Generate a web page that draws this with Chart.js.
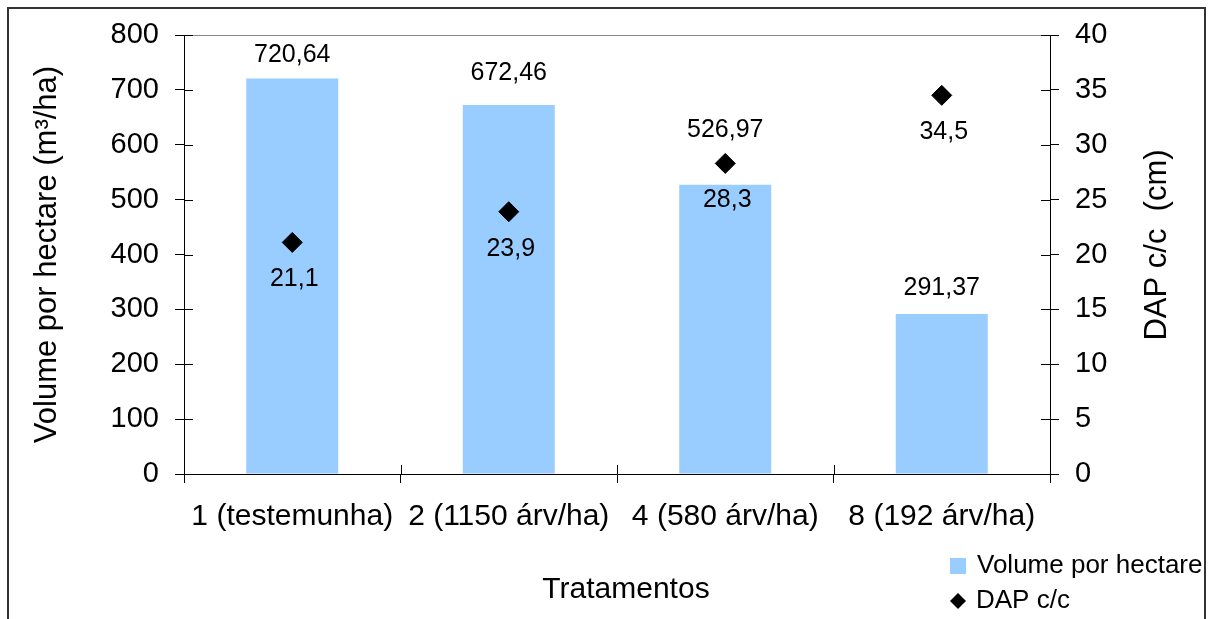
<!DOCTYPE html>
<html>
<head>
<meta charset="utf-8">
<script src="https://cdn.jsdelivr.net/npm/chart.js@4.4.1/dist/chart.umd.min.js"></script>
<style>
  html, body { margin: 0; padding: 0; background: #fff; overflow: hidden; }
  #wrap { position: relative; width: 1218px; height: 619px; }
</style>
</head>
<body>
<div id="wrap"><canvas id="grafico" width="1218" height="619"></canvas></div>
<script>
// dados
const tratamentos = ['1 (testemunha)', '2 (1150 árv/ha)', '4 (580 árv/ha)', '8 (192 árv/ha)'];
const volumeHa = [720.64, 672.46, 526.97, 291.37];
const dapCC = [21.1, 23.9, 28.3, 34.5];
const ticksVolume = [0, 100, 200, 300, 400, 500, 600, 700, 800];
const ticksDap = [0, 5, 10, 15, 20, 25, 30, 35, 40];

// deslocamento vertical (px) dos rótulos das barras, como no original
const elevacaoRotulo = [-23, -32, -55, -26];

const azul = '#99CCFF';
const fonte = '"Liberation Sans", Arial, sans-serif';

Chart.defaults.font.family = fonte;
Chart.defaults.color = '#000';

const fmt = (v, d) => v.toFixed(d).replace('.', ',');

const enfeites = {
    id: 'enfeites',
    beforeDraw(chart) {
        const ctx = chart.ctx;
        ctx.save();
        ctx.fillStyle = '#fff';
        ctx.fillRect(0, 0, chart.width, chart.height);
        ctx.strokeStyle = '#333';
        ctx.lineWidth = 2;
        ctx.strokeRect(8, 8, 1197, 700);
        ctx.restore();
    },
    afterDraw(chart) {
        const ctx = chart.ctx;
        const { left, right, top, bottom } = chart.chartArea;
        const sx = chart.scales.x, sy = chart.scales.y, sy1 = chart.scales.y1;
        ctx.save();

        // borda superior cinza da área do gráfico
        ctx.strokeStyle = '#888';
        ctx.lineWidth = 1;
        ctx.beginPath();
        ctx.moveTo(left, Math.round(top) + 0.5);
        ctx.lineTo(right, Math.round(top) + 0.5);
        ctx.stroke();

        // metade interna das marcas (estilo cruzado)
        ctx.strokeStyle = '#000';
        ctx.beginPath();
        sy.ticks.forEach((t, i) => {
            const py = Math.round(sy.getPixelForTick(i)) + 0.5;
            ctx.moveTo(left, py); ctx.lineTo(left + 9, py);
        });
        sy1.ticks.forEach((t, i) => {
            const py = Math.round(sy1.getPixelForTick(i)) + 0.5;
            ctx.moveTo(right - 9, py); ctx.lineTo(right, py);
        });
        for (let i = 0; i <= tratamentos.length; i++) {
            const px = Math.round(sx.getPixelForValue(i - 0.5)) + 0.5;
            ctx.moveTo(px, bottom - 9); ctx.lineTo(px, bottom);
        }
        ctx.stroke();

        // rótulos de dados
        ctx.fillStyle = '#000';
        ctx.textAlign = 'center';
        ctx.textBaseline = 'middle';
        ctx.font = '25px ' + fonte;
        const barras = chart.getDatasetMeta(1).data;
        barras.forEach((el, i) => {
            ctx.fillText(fmt(volumeHa[i], 2), el.x, el.y + elevacaoRotulo[i]);
        });
        const pontos = chart.getDatasetMeta(0).data;
        pontos.forEach((el, i) => {
            ctx.fillText(fmt(dapCC[i], 1), el.x + 2, el.y + 37);
        });

        // título do eixo x
        ctx.font = '30px ' + fonte;
        ctx.fillText('Tratamentos', 626, 590);

        // título do eixo direito (lido de baixo para cima)
        ctx.save();
        ctx.translate(1157, 245);
        ctx.rotate(-Math.PI / 2);
        ctx.font = '31px ' + fonte;
        ctx.fillText('DAP c/c  (cm)', 0, 0);
        ctx.restore();

        // legenda
        ctx.textAlign = 'left';
        ctx.font = '26px ' + fonte;
        ctx.fillStyle = azul;
        ctx.fillRect(950, 558, 16, 16);
        ctx.fillStyle = '#000';
        ctx.fillText(chart.data.datasets[1].label, 977, 566);
        ctx.beginPath();
        ctx.moveTo(958, 593); ctx.lineTo(966, 601); ctx.lineTo(958, 609); ctx.lineTo(950, 601);
        ctx.closePath();
        ctx.fill();
        ctx.fillText(chart.data.datasets[0].label, 976, 601);

        ctx.restore();
    }
};

new Chart(document.getElementById('grafico'), {
    data: {
        labels: tratamentos,
        datasets: [
            {
                type: 'line',
                label: 'DAP c/c',
                data: dapCC,
                yAxisID: 'y1',
                showLine: false,
                pointStyle: 'rectRot',
                pointRadius: 10,
                pointBorderWidth: 1,
                pointBackgroundColor: '#000',
                pointBorderColor: '#000',
                order: 0
            },
            {
                type: 'bar',
                label: 'Volume por hectare',
                data: volumeHa,
                yAxisID: 'y',
                backgroundColor: azul,
                borderWidth: 0,
                categoryPercentage: 1,
                barPercentage: 0.425,
                order: 1
            }
        ]
    },
    options: {
        responsive: false,
        animation: false,
        layout: { padding: { top: 35, left: 0, right: 0, bottom: 0 } },
        plugins: {
            legend: { display: false },
            tooltip: { enabled: false }
        },
        scales: {
            x: {
                grid: { display: true, drawOnChartArea: false, drawTicks: true, tickLength: 9, color: '#000', offset: true },
                border: { display: true, color: '#000' },
                ticks: { autoSkip: false, maxRotation: 0, font: { size: 30 }, padding: 16, color: '#000' },
                afterFit: s => { s.height = 145; }
            },
            y: {
                position: 'left',
                min: 0,
                max: 800,
                afterBuildTicks: s => { s.ticks = ticksVolume.map(v => ({ value: v })); },
                grid: { drawOnChartArea: false, drawTicks: true, tickLength: 9, color: '#000' },
                border: { display: true, color: '#000' },
                ticks: { font: { size: 29 }, padding: 16, color: '#000' },
                title: { display: true, text: 'Volume por hectare (m³/ha)', font: { size: 31 }, padding: { top: 29, bottom: 0 }, color: '#000' },
                afterFit: s => { s.width = 184; }
            },
            y1: {
                position: 'right',
                min: 0,
                max: 40,
                afterBuildTicks: s => { s.ticks = ticksDap.map(v => ({ value: v })); },
                grid: { drawOnChartArea: false, drawTicks: true, tickLength: 9, color: '#000' },
                border: { display: true, color: '#000' },
                ticks: { font: { size: 29 }, padding: 16, color: '#000' },
                afterFit: s => { s.width = 168; }
            }
        }
    },
    plugins: [enfeites]
});
</script>
</body>
</html>
